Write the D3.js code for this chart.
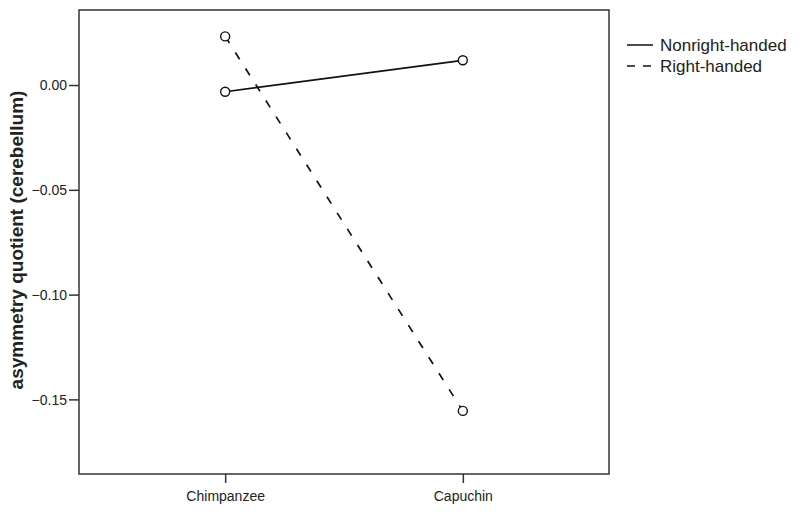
<!DOCTYPE html>
<html>
<head>
<meta charset="utf-8">
<script src="https://cdn.jsdelivr.net/npm/d3@7"></script>
<style>
  body { margin: 0; background: #fff; }
  text { font-family: "Liberation Sans", Arial, sans-serif; fill: #222; }
</style>
</head>
<body>
<div id="chart"></div>
<script>
// data
var species = ["Chimpanzee", "Capuchin"];
var groups = ["Nonright-handed", "Right-handed"];
var nonrightVals = [-0.0032, 0.0118];
var rightVals = [0.0232, -0.1555];
var yTicks = [0.00, -0.05, -0.10, -0.15];

var dashes = { "Nonright-handed": null, "Right-handed": "8,11" };

var margin = { top: 10, right: 191, bottom: 41, left: 79 },
    width = 800 - margin.left - margin.right,
    height = 515 - margin.top - margin.bottom;

var svg = d3.select("#chart")
    .append("svg")
    .attr("width", 800)
    .attr("height", 515)
    .append("g")
    .attr("transform", "translate(" + margin.left + "," + margin.top + ")");

var x = d3.scalePoint()
    .domain(species)
    .range([0, width])
    .padding(0.615);

var y = d3.scaleLinear()
    .domain([-0.1856, 0.0358])
    .range([height, 0]);

// frame
svg.append("rect")
    .attr("width", width)
    .attr("height", height)
    .attr("fill", "none")
    .attr("stroke", "#333")
    .attr("stroke-width", 1.5);

var yAxis = svg.append("g")
    .call(d3.axisLeft(y).tickValues(yTicks).tickFormat(d3.format(".2f")).tickSize(10).tickPadding(2));
var xAxis = svg.append("g")
    .attr("transform", "translate(0," + height + ")")
    .call(d3.axisBottom(x).tickSize(9).tickPadding(8));

[yAxis, xAxis].forEach(function (a) {
    a.select(".domain").remove();
    a.selectAll("line").attr("stroke", "#333").attr("stroke-width", 1.5);
    a.selectAll("text").attr("font-size", 14).attr("fill", "#222")
        .attr("font-family", "Liberation Sans, Arial, sans-serif");
});
yAxis.selectAll("text").attr("dy", "0.35em");

svg.append("text")
    .attr("transform", "translate(-56," + (height / 2 - 2) + ") rotate(-90)")
    .attr("text-anchor", "middle")
    .attr("font-size", 19)
    .attr("font-weight", "bold")
    .text("asymmetry quotient (cerebellum)");

var series = [
    { key: "Nonright-handed", values: nonrightVals },
    { key: "Right-handed", values: rightVals }
];

var line = d3.line()
    .x(function (d, i) { return x(species[i]); })
    .y(function (d) { return y(d); });

series.forEach(function (s) {
    svg.append("path")
        .datum(s.values)
        .attr("d", line)
        .attr("fill", "none")
        .attr("stroke", "#111")
        .attr("stroke-width", 1.7)
        .attr("stroke-dasharray", dashes[s.key]);
});

series.forEach(function (s) {
    svg.selectAll(null)
        .data(s.values)
        .enter().append("circle")
        .attr("cx", function (d, i) { return x(species[i]); })
        .attr("cy", function (d) { return y(d); })
        .attr("r", 4.5)
        .attr("fill", "#fff")
        .attr("stroke", "#111")
        .attr("stroke-width", 1.4);
});

// legend
var legend = svg.append("g")
    .attr("transform", "translate(" + (width + 18) + ",35)");

var items = legend.selectAll("g")
    .data(groups)
    .enter().append("g")
    .attr("transform", function (d, i) { return "translate(0," + (i * 21) + ")"; });

items.append("line")
    .attr("x1", 0).attr("x2", 26)
    .attr("stroke", "#111")
    .attr("stroke-width", 1.5)
    .attr("stroke-dasharray", function (d) { return d == "Right-handed" ? "8,8" : null; });

items.append("text")
    .attr("x", 33)
    .attr("dy", "0.35em")
    .attr("font-size", 17)
    .text(function (d) { return d; });
</script>
</body>
</html>
